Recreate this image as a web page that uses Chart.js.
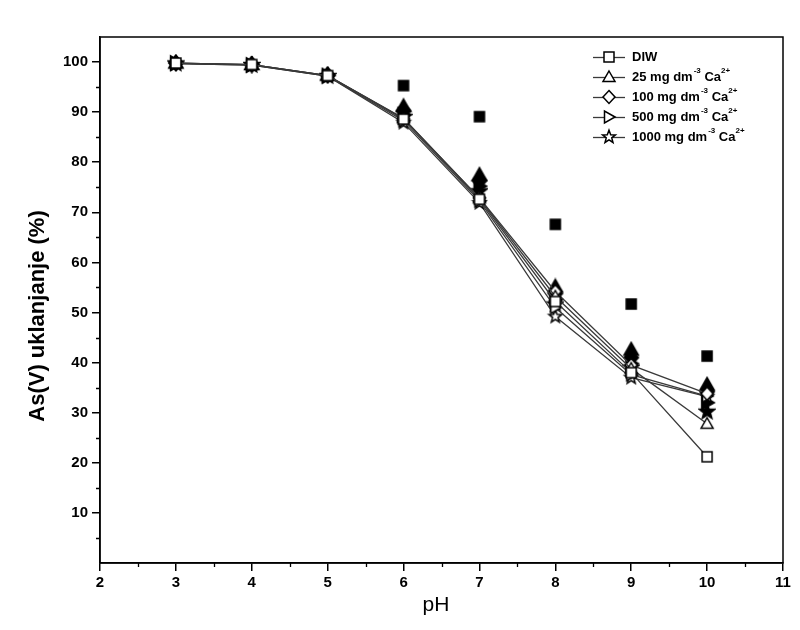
<!DOCTYPE html>
<html>
<head>
<meta charset="utf-8">
<script src="https://cdn.jsdelivr.net/npm/chart.js@4/dist/chart.umd.min.js"></script>
<style>
html,body{margin:0;padding:0;background:#fff;}
#wrap{width:800px;height:630px;position:relative;}
</style>
</head>
<body>
<div id="wrap"><canvas id="c" width="800" height="630"></canvas></div>
<script>
// ---- data ----
const pH = [3, 4, 5, 6, 7, 8, 9, 10];
const pHfilledSq = [6, 7, 8, 9, 10];
const seriesNames = ['DIW', '25 mg dm', '100 mg dm', '500 mg dm', '1000 mg dm'];
const diw    = [99.8, 99.5, 97.3, 88.6, 72.6, 52.2, 38.0, 21.2];
const ca25   = [99.8, 99.5, 97.3, 88.8, 72.8, 53.2, 38.8, 27.8];
const ca100  = [99.8, 99.5, 97.3, 88.7, 72.9, 54.2, 39.5, 33.8];
const ca500  = [99.7, 99.4, 97.2, 88.3, 72.3, 51.0, 37.6, 33.3];
const ca1000 = [99.7, 99.4, 97.2, 87.9, 71.9, 49.2, 37.0, 33.2];
const fSquare  = [95.3, 89.1, 67.6, 51.7, 41.3];
const fTri     = [99.9, 99.6, 97.5, 91.2, 77.5, 55.2, 42.6, 35.6];
const fDiamond = [99.8, 99.5, 97.4, 90.3, 76.3, 53.8, 41.0, 34.2];
const fRtri    = [99.8, 99.4, 97.3, 89.5, 75.2, 52.6, 39.8, 32.0];
const fStar    = [99.7, 99.4, 97.2, 89.0, 74.2, 51.6, 39.0, 30.2];
const xTicks = [2, 3, 4, 5, 6, 7, 8, 9, 10, 11];
const yTicks = [10, 20, 30, 40, 50, 60, 70, 80, 90, 100];

// ---- markers ----
function makeMarker(shape, filled, big) {
  const s = 18;
  const k = big ? 1.2 : 1;
  const c = document.createElement('canvas');
  c.width = s; c.height = s;
  const g = c.getContext('2d');
  g.translate(s / 2, s / 2);
  g.scale(k, k);
  g.beginPath();
  if (shape === 'square') {
    g.rect(-5, -5, 10, 10);
  } else if (shape === 'tri') {
    g.moveTo(0, -6); g.lineTo(6, 4.5); g.lineTo(-6, 4.5); g.closePath();
  } else if (shape === 'diamond') {
    g.moveTo(0, -6.5); g.lineTo(6, 0); g.lineTo(0, 6.5); g.lineTo(-6, 0); g.closePath();
  } else if (shape === 'rtri') {
    g.moveTo(6, 0); g.lineTo(-4.5, -6); g.lineTo(-4.5, 6); g.closePath();
  } else if (shape === 'star') {
    for (let i = 0; i < 10; i++) {
      const r = i % 2 === 0 ? 6.8 : 2.9;
      const a = -Math.PI / 2 + i * Math.PI / 5;
      const px = r * Math.cos(a), py = r * Math.sin(a);
      if (i === 0) g.moveTo(px, py); else g.lineTo(px, py);
    }
    g.closePath();
  }
  g.fillStyle = filled ? '#000' : '#fff';
  g.fill();
  g.lineWidth = 1.5 / k;
  g.strokeStyle = '#000';
  g.stroke();
  return c;
}
const shapes = ['square', 'tri', 'diamond', 'rtri', 'star'];
const openM = {}, fillM = {};
shapes.forEach(s => { openM[s] = makeMarker(s, false, false); fillM[s] = makeMarker(s, true, true); });
const fillSq = makeMarker('square', true, false);

const pts = (xs, ys) => xs.map((x, i) => ({x: x, y: ys[i]}));
const lineSeries = [diw, ca25, ca100, ca500, ca1000];
const datasets = [];
lineSeries.forEach((ys, i) => {
  datasets.push({
    label: seriesNames[i], data: pts(pH, ys), showLine: true,
    borderColor: '#3a3a3a', borderWidth: 1.3, pointStyle: openM[shapes[i]],
    order: 0
  });
});
datasets.push({label: 'fSquare', data: pts(pHfilledSq, fSquare), showLine: false, pointStyle: fillSq, order: 1});
[[fTri, 'tri'], [fDiamond, 'diamond'], [fRtri, 'rtri'], [fStar, 'star']].forEach(([ys, s]) => {
  datasets.push({label: 'f' + s, data: pts(pH, ys), showLine: false, pointStyle: fillM[s], order: 1});
});

const FONT = '"Liberation Sans", Arial, sans-serif';

const decor = {
  id: 'decor',
  afterDraw(chart) {
    const ctx = chart.ctx, a = chart.chartArea;
    const xs = chart.scales.x, ys = chart.scales.y;
    ctx.save();
    // frame
    ctx.strokeStyle = '#000'; ctx.lineWidth = 1.5;
    ctx.strokeRect(a.left, a.top, a.right - a.left, a.bottom - a.top);
    // minor ticks
    ctx.lineWidth = 1.3;
    ctx.beginPath();
    for (let v = 5; v < 105; v += 10) {
      const y = Math.round(ys.getPixelForValue(v)) + 0.5;
      ctx.moveTo(a.left, y); ctx.lineTo(a.left - 4, y);
    }
    for (let v = 2.5; v < 11; v += 1) {
      const x = Math.round(xs.getPixelForValue(v)) + 0.5;
      ctx.moveTo(x, a.bottom); ctx.lineTo(x, a.bottom + 4);
    }
    ctx.stroke();
    // axis titles
    ctx.fillStyle = '#000';
    ctx.textAlign = 'center'; ctx.textBaseline = 'middle';
    ctx.font = 'bold 22px ' + FONT;
    ctx.translate(38, 316);
    ctx.rotate(-Math.PI / 2);
    ctx.fillText('As(V) uklanjanje (%)', 0, 0);
    ctx.setTransform(1, 0, 0, 1, 0, 0);
    ctx.font = '21px ' + FONT;
    ctx.fillText('pH', 436, 605);
    // legend
    const rowY = [57, 77, 97, 117, 137];
    ctx.textAlign = 'left';
    seriesNames.forEach((name, i) => {
      const y = rowY[i];
      ctx.strokeStyle = '#3a3a3a'; ctx.lineWidth = 1.3;
      ctx.beginPath(); ctx.moveTo(593, y + 0.5); ctx.lineTo(625, y + 0.5); ctx.stroke();
      const m = openM[shapes[i]];
      ctx.drawImage(m, 609 - m.width / 2, y - m.height / 2);
      let x = 632;
      ctx.font = 'bold 13px ' + FONT;
      ctx.textBaseline = 'middle';
      ctx.fillText(name, x, y);
      if (i > 0) {
        x += ctx.measureText(name).width;
        ctx.font = 'bold 8px ' + FONT;
        ctx.fillText('-3', x + 1, y - 6);
        x += ctx.measureText('-3').width + 1;
        ctx.font = 'bold 13px ' + FONT;
        ctx.fillText(' Ca', x, y);
        x += ctx.measureText(' Ca').width;
        ctx.font = 'bold 8px ' + FONT;
        ctx.fillText('2+', x, y - 6);
      }
    });
    ctx.restore();
  }
};

new Chart(document.getElementById('c'), {
  type: 'scatter',
  data: {datasets: datasets},
  options: {
    responsive: false,
    animation: false,
    devicePixelRatio: 1,
    layout: {padding: {top: 37, right: 17, left: 0, bottom: 0}},
    elements: {point: {radius: 6, hoverRadius: 6}},
    plugins: {legend: {display: false}, tooltip: {enabled: false}},
    scales: {
      x: {
        type: 'linear', min: 2, max: 11,
        afterBuildTicks: s => { s.ticks = xTicks.map(v => ({value: v})); },
        afterFit: s => { s.height = 67; },
        grid: {drawOnChartArea: false, drawTicks: true, tickLength: 8, tickColor: '#000', lineWidth: 1.5},
        border: {display: true, color: '#000', width: 1.5},
        ticks: {color: '#000', font: {family: FONT, size: 15, weight: 'bold'}, padding: 3, maxRotation: 0}
      },
      y: {
        type: 'linear', min: 0, max: 105,
        afterBuildTicks: s => { s.ticks = yTicks.map(v => ({value: v})); },
        afterFit: s => { s.width = 100; },
        grid: {drawOnChartArea: false, drawTicks: true, tickLength: 8, tickColor: '#000', lineWidth: 1.5},
        border: {display: true, color: '#000', width: 1.5},
        ticks: {color: '#000', font: {family: FONT, size: 15, weight: 'bold'}, padding: 4}
      }
    }
  },
  plugins: [decor]
});
</script>
</body>
</html>
